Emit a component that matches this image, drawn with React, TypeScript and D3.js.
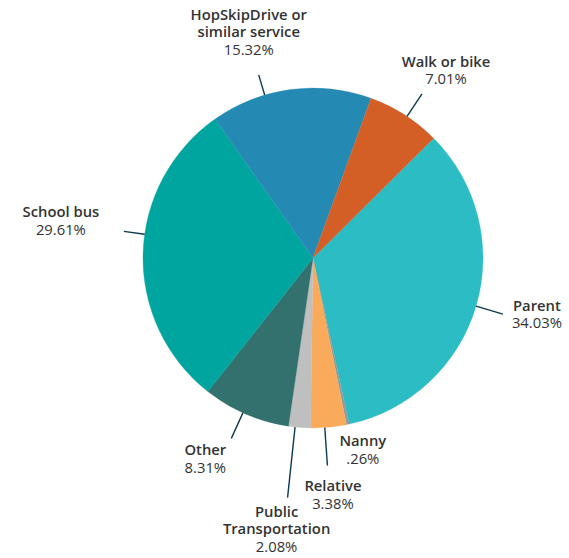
import React from "react";
import * as d3 from "d3";

// Data (clockwise from the Parent slice)
const categories = ["Parent", "Nanny", "Relative", "Public Transportation", "Other", "School bus", "HopSkipDrive or similar service", "Walk or bike"];
const values = [34.03, 0.26, 3.38, 2.08, 8.31, 29.61, 15.32, 7.01];
const valueLabels = ["34.03%", ".26%", "3.38%", "2.08%", "8.31%", "29.61%", "15.32%", "7.01%"];
const labelLines = [["Parent"], ["Nanny"], ["Relative"], ["Public", "Transportation"], ["Other"], ["School bus"], ["HopSkipDrive or", "similar service"], ["Walk or bike"]];
const colors = ["#2bbcc4", "#8f9c9e", "#f9ab5b", "#bfbfbf", "#33716e", "#00a59f", "#248ab3", "#d35f27"];

// Layout for labels: leader angle nudge (deg), leader length, text offset from leader end
const labelLayout = [
  { nudge: 0, len: 28, dx: 34, dy: -3.5, leader: true },
  { nudge: 0, len: 0, dx: 15, dy: 22, leader: false },
  { nudge: 1.3, len: 38, dx: 5.5, dy: 25.5, leader: true },
  { nudge: 1.5, len: 71, dx: -11, dy: 19, leader: true },
  { nudge: 1.1, len: 28, dx: -26, dy: 17, leader: true },
  { nudge: 6.5, len: 21, dx: -63, dy: -14, leader: true },
  { nudge: -8.9, len: 21, dx: -10, dy: -55, leader: true },
  { nudge: 1, len: 27, dx: 24, dy: -27, leader: true },
];

const W = 569;
const H = 558;
const cx = 313;
const cy = 258;
const R = 170;
const startDeg = 45.2;
const lineH = 17.5;
const font = "'Open Sans', Lato, sans-serif";

export default function App() {
  const pie = d3
    .pie<number>()
    .sort(null)
    .value((d) => d)
    .startAngle((startDeg * Math.PI) / 180)
    .endAngle((startDeg * Math.PI) / 180 + 2 * Math.PI);
  const arcs = pie(values);
  const arcGen = d3.arc<d3.PieArcDatum<number>>().innerRadius(0).outerRadius(R);

  const polar = (a: number, r: number) => [Math.sin(a) * r, -Math.cos(a) * r];

  return (
    <svg width={W} height={H} style={{ position: "absolute", left: 0, top: 0, background: "#fff" }}>
      <g transform={`translate(${cx},${cy})`}>
        {arcs.map((a, i) => (
          <path key={i} d={arcGen(a) || ""} fill={colors[i]} stroke={colors[i]} strokeWidth={0.3} />
        ))}
        {arcs.map((a, i) => {
          const L = labelLayout[i];
          const mid = (a.startAngle + a.endAngle) / 2 + (L.nudge * Math.PI) / 180;
          const [x0, y0] = polar(mid, R);
          const [x1, y1] = polar(mid, R + L.len);
          const tx = x1 + L.dx;
          const ty = y1 + L.dy;
          const lines = labelLines[i];
          return (
            <g key={"l" + i}>
              {L.leader && <line x1={x0} y1={y0} x2={x1} y2={y1} stroke="#0d3a52" strokeWidth={1.4} />}
              <text textAnchor="middle" fontFamily={font} fontSize={14.8} fill="#333">
                {lines.map((t, j) => (
                  <tspan key={j} x={tx} y={ty + j * lineH} fontWeight={600}>
                    {t}
                  </tspan>
                ))}
                <tspan x={tx} y={ty + lines.length * lineH} fontWeight={400}>
                  {valueLabels[i]}
                </tspan>
              </text>
            </g>
          );
        })}
      </g>
    </svg>
  );
}
